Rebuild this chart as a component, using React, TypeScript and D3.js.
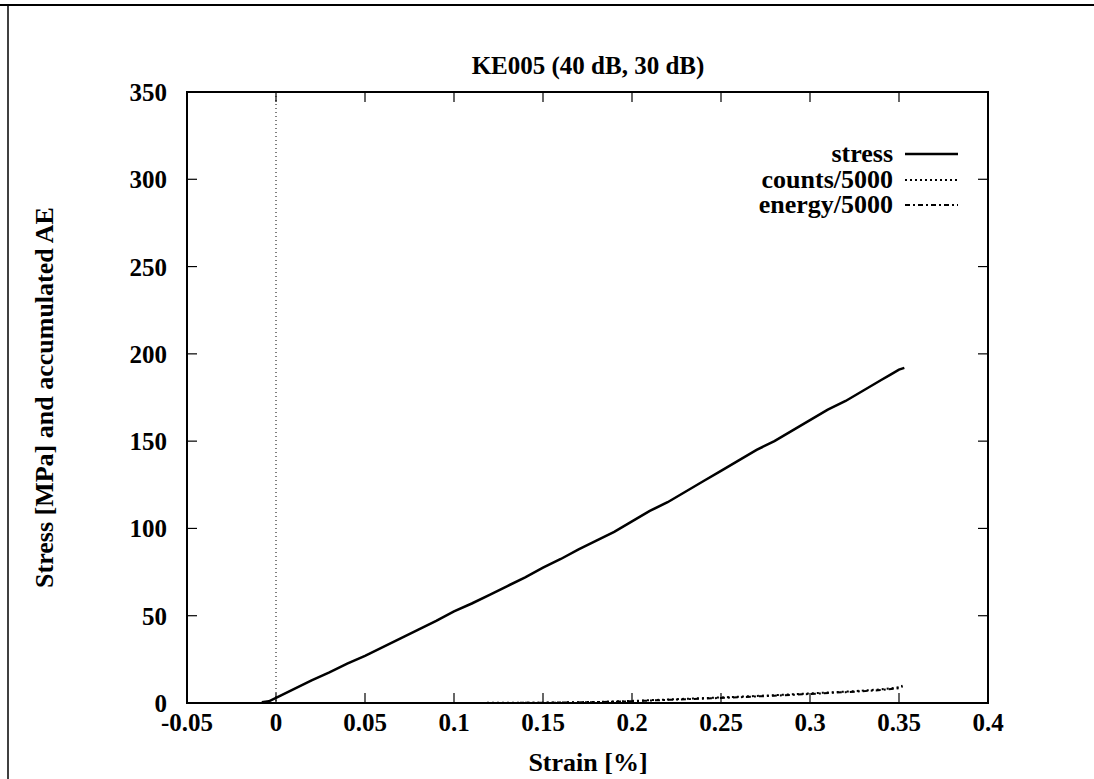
import React from "react";
import * as d3 from "d3";

const title = "KE005 (40 dB, 30 dB)";
const xTicks = [-0.05, 0, 0.05, 0.1, 0.15, 0.2, 0.25, 0.3, 0.35, 0.4];
const yTicks = [0, 50, 100, 150, 200, 250, 300, 350];

const stressStrain = [-0.008, -0.004, 0, 0.01, 0.02, 0.03, 0.04, 0.05, 0.06, 0.07, 0.08, 0.09, 0.1, 0.11, 0.12, 0.13, 0.14, 0.15, 0.16, 0.17, 0.18, 0.19, 0.2, 0.21, 0.22, 0.23, 0.24, 0.25, 0.26, 0.27, 0.28, 0.29, 0.3, 0.31, 0.32, 0.33, 0.34, 0.345, 0.35, 0.353];
const stressVals = [0.5, 1, 3, 8, 13, 17.5, 22.5, 27, 32, 37, 42, 47, 52.5, 57, 62, 67, 72, 77.5, 82.5, 88, 93, 98, 104, 110, 115, 121, 127, 133, 139, 145, 150, 156, 162, 168, 173, 179, 185, 188, 191, 192];

const countsStrain = [-0.05, 0.1, 0.15, 0.18, 0.2, 0.22, 0.24, 0.26, 0.28, 0.3, 0.32, 0.34, 0.35, 0.352];
const countsVals = [0, 0, 0.2, 0.6, 1.2, 2, 2.8, 3.6, 4.5, 5.5, 6.5, 7.8, 9, 10];
const energyStrain = [-0.05, 0.1, 0.15, 0.18, 0.2, 0.22, 0.24, 0.26, 0.28, 0.3, 0.32, 0.34, 0.35, 0.352];
const energyVals = [0, 0, 0.1, 0.5, 1, 1.8, 2.5, 3.3, 4.2, 5.2, 6.2, 7.4, 8.5, 9.5];

const legendLabels = ["stress", "counts/5000", "energy/5000"];

export default function App() {
  const left = 187, right = 988, top = 92, bottom = 703;
  const x = d3.scaleLinear().domain([-0.05, 0.4]).range([left, right]);
  const y = d3.scaleLinear().domain([0, 350]).range([bottom, top]);
  const line = d3.line<[number, number]>().x(d => x(d[0])).y(d => y(d[1]));
  const zip = (a: number[], b: number[]) => a.map((v, i) => [v, b[i]] as [number, number]);
  const font = "'Liberation Serif', 'Times New Roman', serif";
  const tickLen = 10;
  const dashes = [undefined, "2,3", "5,3,2,3"];
  const legendY = [154, 180, 205];
  return (
    <svg width={1094} height={779} style={{ position: "absolute", left: 0, top: 0, background: "#fff" }} fontFamily={font}>
      <rect x={0} y={0} width={1094} height={779} fill="#fff" />
      <line x1={0} x2={1094} y1={5} y2={5} stroke="#000" strokeWidth={2} />
      <line x1={8} x2={8} y1={5} y2={779} stroke="#000" strokeWidth={1.5} />
      <text x={588} y={74} textAnchor="middle" fontSize={25} fontWeight="bold">{title}</text>
      {/* zero line */}
      <line x1={x(0)} x2={x(0)} y1={top} y2={bottom} stroke="#000" strokeWidth={1} strokeDasharray="1,3" />
      {/* ticks */}
      {xTicks.map(t => (
        <g key={"x" + t}>
          <line x1={x(t)} x2={x(t)} y1={bottom} y2={bottom - tickLen} stroke="#000" strokeWidth={1.2} />
          <line x1={x(t)} x2={x(t)} y1={top} y2={top + tickLen} stroke="#000" strokeWidth={1.2} />
          <text x={x(t)} y={bottom + 28} textAnchor="middle" fontSize={25} fontWeight="bold">{t === 0 ? "0" : String(t)}</text>
        </g>
      ))}
      {yTicks.map(t => (
        <g key={"y" + t}>
          <line x1={left} x2={left + tickLen} y1={y(t)} y2={y(t)} stroke="#000" strokeWidth={1.2} />
          <line x1={right} x2={right - tickLen} y1={y(t)} y2={y(t)} stroke="#000" strokeWidth={1.2} />
          <text x={left - 20} y={y(t) + 9} textAnchor="end" fontSize={25} fontWeight="bold">{t}</text>
        </g>
      ))}
      <rect x={left} y={top} width={right - left} height={bottom - top} fill="none" stroke="#000" strokeWidth={2} />
      <text x={588} y={771} textAnchor="middle" fontSize={26} fontWeight="bold">Strain [%]</text>
      <text transform={`translate(53,${(top + bottom) / 2}) rotate(-90)`} textAnchor="middle" fontSize={26} fontWeight="bold">Stress [MPa] and accumulated AE</text>
      {/* data */}
      <path d={line(zip(countsStrain, countsVals)) || ""} fill="none" stroke="#000" strokeWidth={2} strokeDasharray="2,3" />
      <path d={line(zip(energyStrain, energyVals)) || ""} fill="none" stroke="#000" strokeWidth={2} strokeDasharray="5,3,2,3" />
      <path d={line(zip(stressStrain, stressVals)) || ""} fill="none" stroke="#000" strokeWidth={2.5} />
      {/* legend */}
      {legendLabels.map((l, i) => (
        <g key={l}>
          <text x={893} y={legendY[i] + 8} textAnchor="end" fontSize={26} fontWeight="bold">{l}</text>
          <line x1={905} x2={958} y1={legendY[i]} y2={legendY[i]} stroke="#000" strokeWidth={i === 0 ? 2.5 : 2} strokeDasharray={dashes[i]} />
        </g>
      ))}
    </svg>
  );
}
